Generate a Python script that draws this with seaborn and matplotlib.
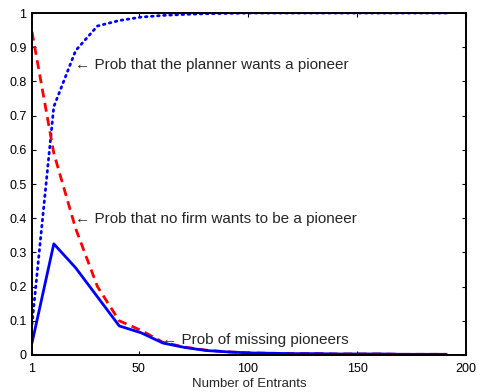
import matplotlib
matplotlib.use("Agg")
import matplotlib.pyplot as plt
import seaborn as sns
import pandas as pd

entrants = [1, 11, 21, 31, 41, 51, 61, 71, 81, 91, 101, 111, 121, 131, 141, 151, 161, 171, 181, 191]
planner_wants = [0.09, 0.726, 0.89, 0.962, 0.978, 0.988, 0.993, 0.996, 0.998, 0.999,
                 1.0, 1.0, 1.0, 1.0, 1.0, 1.0, 1.0, 1.0, 1.0, 1.0]
no_firm_wants = [0.945, 0.59, 0.37, 0.2, 0.1, 0.072, 0.037, 0.023, 0.014, 0.009,
                 0.006, 0.005, 0.004, 0.004, 0.003, 0.003, 0.003, 0.002, 0.002, 0.002]
missing = [0.035, 0.325, 0.255, 0.17, 0.085, 0.065, 0.035, 0.022, 0.013, 0.009,
           0.006, 0.005, 0.004, 0.004, 0.003, 0.003, 0.003, 0.002, 0.002, 0.002]

x_ticks = [1, 50, 100, 150, 200]
y_ticks = [0, 0.1, 0.2, 0.3, 0.4, 0.5, 0.6, 0.7, 0.8, 0.9, 1]
y_labels = ["0", "0.1", "0.2", "0.3", "0.4", "0.5", "0.6", "0.7", "0.8", "0.9", "1"]

sns.set_style("white")
plt.rcParams['font.family'] = ['Liberation Sans', 'DejaVu Sans']

df = pd.DataFrame({"n": entrants, "planner": planner_wants, "nofirm": no_firm_wants, "missing": missing})

fig = plt.figure(figsize=(4.79, 3.92), dpi=100)
ax = fig.add_axes([0.0668, 0.0944, 0.9062, 0.8724])

sns.lineplot(data=df, x="n", y="planner", ax=ax, color=(0, 0, 1), lw=2, linestyle=(0, (0.6, 1.6)),
             dash_capstyle="round")
sns.lineplot(data=df, x="n", y="nofirm", ax=ax, color=(1, 0, 0), lw=2, linestyle=(0, (3.2, 2)))
sns.lineplot(data=df, x="n", y="missing", ax=ax, color=(0, 0, 1), lw=2)

ax.set_xlim(1, 200)
ax.set_ylim(0, 1)
ax.set_xticks(x_ticks)
ax.set_xticklabels([str(t) for t in x_ticks])
ax.set_yticks(y_ticks)
ax.set_yticklabels(y_labels)
ax.set_xlabel("Number of Entrants", fontsize=9.5, labelpad=2)
ax.set_ylabel("")

for s in ax.spines.values():
    s.set_visible(True)
    s.set_color("black")
    s.set_linewidth(1.4)
ax.tick_params(direction="in", length=3, width=0.8, labelsize=9, top=True, right=True,
               bottom=True, left=True, colors="black")
ax.tick_params(axis="x", pad=6)
ax.tick_params(axis="y", pad=4)

fs = 11
ax.text(20.5, 0.848, "\u2190 Prob that the planner wants a pioneer", fontsize=fs, va="center", ha="left")
ax.text(20.5, 0.398, "\u2190 Prob that no firm wants to be a pioneer", fontsize=fs, va="center", ha="left")
ax.text(60.5, 0.045, "\u2190 Prob of missing pioneers", fontsize=fs, va="center", ha="left")

fig.savefig("out.png", dpi=100)
